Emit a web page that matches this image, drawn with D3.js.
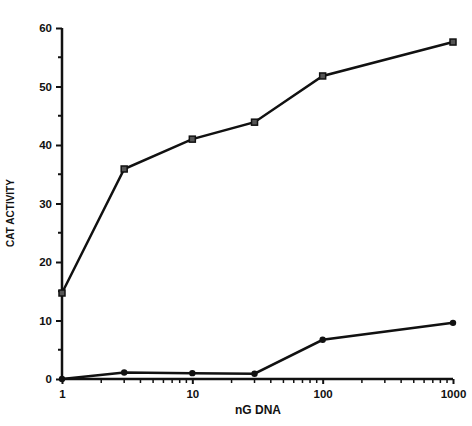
<!DOCTYPE html>
<meta charset="utf-8">
<head>
<style>
body { margin: 0; background: #fff; }
text { font-family: "Liberation Sans", Arial, sans-serif; font-weight: bold; fill: #111; }
</style>
</head>
<body>
<svg width="472" height="426"></svg>
<script src="https://cdn.jsdelivr.net/npm/d3@7"></script>
<script>

// nG DNA doses
var doses = [1, 3, 10, 30, 100, 1000];
// CAT activity, upper curve (squares) and lower curve (dots)
var squareVals = [14.7, 35.9, 41.0, 43.9, 51.8, 57.6];
var dotVals = [0, 1.1, 1.0, 0.9, 6.7, 9.6];
var yTicks = [0, 10, 20, 30, 40, 50, 60];
var xTicks = [1, 10, 100, 1000];

var svg = d3.select("svg");

var x = d3.scaleLog().domain([1, 1000]).range([62, 453]);
var y = d3.scaleLinear().domain([0, 60]).range([379, 28]);

// y axis
var yAxis = svg.append("g").attr("transform", "translate(62,0)")
  .call(d3.axisLeft(y).tickValues(yTicks).tickSize(6).tickPadding(4).tickFormat(d3.format("d")));
yAxis.select(".domain").attr("d", "M0," + y(60) + "V" + y(0)).attr("stroke-width", 2.5).attr("stroke", "#111");
yAxis.selectAll(".tick line").attr("stroke-width", 2).attr("stroke", "#111");
yAxis.selectAll("text").style("font-size", "11.5px");

// minor y ticks at the fives
svg.append("g").selectAll("line")
  .data(d3.range(5, 60, 10))
  .enter().append("line")
    .attr("x1", 58).attr("x2", 62)
    .attr("y1", function(d) { return y(d); })
    .attr("y2", function(d) { return y(d); })
    .attr("stroke", "#111").attr("stroke-width", 2);

// x axis
var xAxis = svg.append("g").attr("transform", "translate(0," + y(0) + ")")
  .call(d3.axisBottom(x).tickValues(xTicks).tickSize(5).tickPadding(6).tickFormat(d3.format("d")));
xAxis.select(".domain").attr("d", "M" + x(1) + ",0H" + x(1000)).attr("stroke-width", 2.5).attr("stroke", "#111");
xAxis.selectAll(".tick line").attr("stroke-width", 2).attr("stroke", "#111");
xAxis.selectAll("text").style("font-size", "11.5px");

// minor x ticks 2..9 per decade
var minor = [];
[1, 10, 100].forEach(function(dec) {
  for (var k = 2; k <= 9; k++) minor.push(dec * k);
});
svg.append("g").selectAll("line")
  .data(minor)
  .enter().append("line")
    .attr("x1", function(d) { return x(d); })
    .attr("x2", function(d) { return x(d); })
    .attr("y1", y(0)).attr("y2", y(0) + 4)
    .attr("stroke", "#111").attr("stroke-width", 1.5);

// axis titles
svg.append("text")
  .attr("transform", "translate(14,213) rotate(-90)")
  .attr("text-anchor", "middle")
  .style("font-size", "10px")
  .text("CAT ACTIVITY");

svg.append("text")
  .attr("x", 258).attr("y", 414)
  .attr("text-anchor", "middle")
  .style("font-size", "12px")
  .text("nG  DNA");

var line = d3.line()
  .x(function(d) { return x(d[0]); })
  .y(function(d) { return y(d[1]); });

var upper = d3.zip(doses, squareVals);
var lower = d3.zip(doses, dotVals);

svg.append("path").datum(upper)
  .attr("d", line).attr("fill", "none")
  .attr("stroke", "#111").attr("stroke-width", 2.5);

svg.append("path").datum(lower)
  .attr("d", line).attr("fill", "none")
  .attr("stroke", "#111").attr("stroke-width", 2.5);

svg.append("g").selectAll("rect")
  .data(upper)
  .enter().append("rect")
    .attr("x", function(d) { return x(d[0]) - 3; })
    .attr("y", function(d) { return y(d[1]) - 3; })
    .attr("width", 6).attr("height", 6)
    .attr("fill", "#555").attr("stroke", "#111").attr("stroke-width", 1.5);

svg.append("g").selectAll("circle")
  .data(lower)
  .enter().append("circle")
    .attr("cx", function(d) { return x(d[0]); })
    .attr("cy", function(d) { return y(d[1]); })
    .attr("r", 3.2)
    .attr("fill", "#111");

</script>
</body>
